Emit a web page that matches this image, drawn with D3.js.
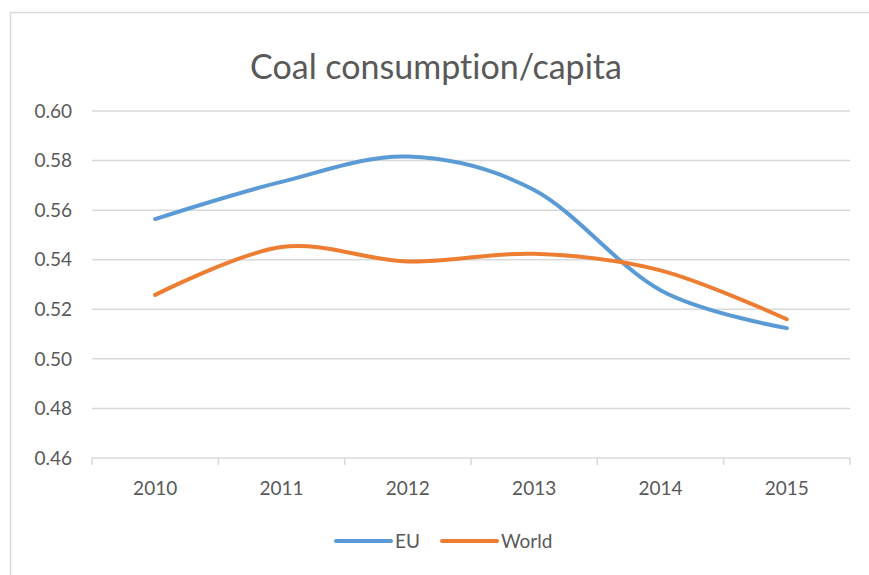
<!DOCTYPE html>
<html>
<head>
<meta charset="utf-8">
<script src="https://d3js.org/d3.v7.min.js"></script>
<style>
    body { margin: 0; background: white; }
    text { font-family: Lato, "Open Sans", sans-serif; fill: #595959; font-variant-ligatures: none; }
</style>
</head>
<body>
<script>
    // data
    var years = ["2010", "2011", "2012", "2013", "2014", "2015"];
    var euValues = [0.5564, 0.5714, 0.5816, 0.5681, 0.5277, 0.5124];
    var worldValues = [0.5258, 0.5451, 0.5393, 0.5424, 0.5357, 0.5160];
    var yTicks = [0.46, 0.48, 0.50, 0.52, 0.54, 0.56, 0.58, 0.60];
    var seriesNames = ["EU", "World"];
    var colors = ["#5b9bd5", "#ed7d31"];

    var width = 869, height = 575;
    var margin = {top: 111, right: 19, bottom: 117, left: 92};

    var svg = d3.select("body").append("svg")
        .attr("width", width)
        .attr("height", height);

    // chart frame (top + left edge only visible)
    svg.append("line").attr("x1", 10).attr("x2", width).attr("y1", 12.5).attr("y2", 12.5)
        .attr("stroke", "#d9d9d9").attr("stroke-width", 1.5);
    svg.append("line").attr("x1", 10.5).attr("x2", 10.5).attr("y1", 12).attr("y2", height)
        .attr("stroke", "#d9d9d9").attr("stroke-width", 1.5);

    svg.append("text")
        .attr("x", 436)
        .attr("y", 79)
        .attr("text-anchor", "middle")
        .style("font-size", "34px")
        .text("Coal consumption/capita");

    var x = d3.scaleBand()
        .domain(years)
        .range([margin.left, width - margin.right]);

    var y = d3.scaleLinear()
        .domain([0.46, 0.60])
        .range([height - margin.bottom, margin.top]);

    // gridlines
    svg.selectAll(".grid")
        .data(yTicks.slice(1))
        .enter()
        .append("line")
        .attr("x1", margin.left)
        .attr("x2", width - margin.right)
        .attr("y1", d => y(d))
        .attr("y2", d => y(d))
        .attr("stroke", "#d9d9d9")
        .attr("stroke-width", 1.5);

    // y labels
    svg.selectAll(".ylab")
        .data(yTicks)
        .enter()
        .append("text")
        .attr("x", 72)
        .attr("y", d => y(d))
        .attr("dy", "0.35em")
        .attr("text-anchor", "end")
        .style("font-size", "19px")
        .text(d => d.toFixed(2));

    // x axis
    var xAxis = svg.append("g")
        .attr("transform", "translate(0," + y(0.46) + ")")
        .call(d3.axisBottom(x).tickSize(0).tickPadding(22));
    xAxis.select(".domain").remove();
    xAxis.selectAll("text")
        .attr("y", 30)
        .attr("dy", "0.35em")
        .style("font-size", "19px")
        .style("font-family", "Lato, 'Open Sans', sans-serif")
        .attr("fill", "#595959");

    xAxis.append("line")
        .attr("x1", margin.left).attr("x2", width - margin.right)
        .attr("stroke", "#d9d9d9").attr("stroke-width", 1.5);

    var boundaries = years.map(d => x(d)).concat([width - margin.right]);
    xAxis.selectAll(".xtick")
        .data(boundaries)
        .enter()
        .append("line")
        .attr("x1", d => d).attr("x2", d => d)
        .attr("y1", 0).attr("y2", 7)
        .attr("stroke", "#d9d9d9").attr("stroke-width", 1.5);

    var line = d3.line()
        .x((d, i) => x(years[i]) + x.bandwidth() / 2)
        .y(d => y(d))
        .curve(d3.curveCardinal.tension(0));

    [euValues, worldValues].forEach(function(vals, i) {
        svg.append("path")
            .datum(vals)
            .attr("d", line)
            .attr("fill", "none")
            .attr("stroke", colors[i])
            .attr("stroke-width", 4)
            .attr("stroke-linecap", "round");
    });

    // legend
    var legendX = [336, 442];
    seriesNames.forEach(function(name, i) {
        svg.append("line")
            .attr("x1", legendX[i]).attr("x2", legendX[i] + 55)
            .attr("y1", 541).attr("y2", 541)
            .attr("stroke", colors[i])
            .attr("stroke-width", 4)
            .attr("stroke-linecap", "round");
        svg.append("text")
            .attr("x", legendX[i] + 59)
            .attr("y", 541)
            .attr("dy", "0.35em")
            .style("font-size", "19px")
            .text(name);
    });
</script>
</body>
</html>
